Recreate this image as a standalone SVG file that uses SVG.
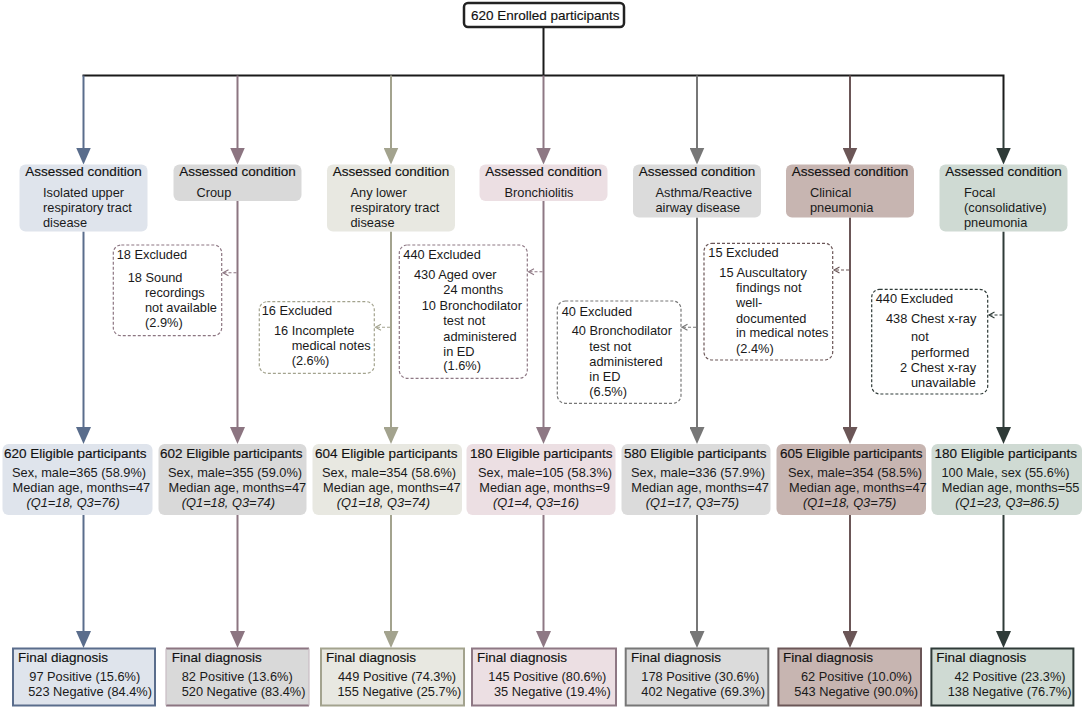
<svg xmlns="http://www.w3.org/2000/svg" width="1084" height="708" viewBox="0 0 1084 708">
<style>
text{font-family:"Liberation Sans",Arial,sans-serif;fill:#1a1a1a}
.h{font-size:13.5px;fill:#111;stroke:#111;stroke-width:0.15}
.b{font-size:12.8px}
.i{font-size:12.8px;font-style:italic}
.ln{fill:none;stroke-width:2}
.ex{fill:#fff;stroke-width:1.2;stroke-dasharray:3 2}
.da{fill:none;stroke-width:1.1;stroke-dasharray:3 2}
.ah{fill:none;stroke-width:1.1}
</style>
<defs>
<marker id="m1" viewBox="0 0 17 15" refX="13" refY="7.5" markerWidth="17" markerHeight="15" markerUnits="userSpaceOnUse" orient="auto"><path d="M0,0 L17,7.5 L0,15 z" fill="#5a6d8c"/></marker>
<marker id="m2" viewBox="0 0 17 15" refX="13" refY="7.5" markerWidth="17" markerHeight="15" markerUnits="userSpaceOnUse" orient="auto"><path d="M0,0 L17,7.5 L0,15 z" fill="#8c7581"/></marker>
<marker id="m3" viewBox="0 0 17 15" refX="13" refY="7.5" markerWidth="17" markerHeight="15" markerUnits="userSpaceOnUse" orient="auto"><path d="M0,0 L17,7.5 L0,15 z" fill="#a3a38e"/></marker>
<marker id="m4" viewBox="0 0 17 15" refX="13" refY="7.5" markerWidth="17" markerHeight="15" markerUnits="userSpaceOnUse" orient="auto"><path d="M0,0 L17,7.5 L0,15 z" fill="#8e7884"/></marker>
<marker id="m5" viewBox="0 0 17 15" refX="13" refY="7.5" markerWidth="17" markerHeight="15" markerUnits="userSpaceOnUse" orient="auto"><path d="M0,0 L17,7.5 L0,15 z" fill="#777777"/></marker>
<marker id="m6" viewBox="0 0 17 15" refX="13" refY="7.5" markerWidth="17" markerHeight="15" markerUnits="userSpaceOnUse" orient="auto"><path d="M0,0 L17,7.5 L0,15 z" fill="#6b5657"/></marker>
<marker id="m7" viewBox="0 0 17 15" refX="13" refY="7.5" markerWidth="17" markerHeight="15" markerUnits="userSpaceOnUse" orient="auto"><path d="M0,0 L17,7.5 L0,15 z" fill="#2f3b38"/></marker>
</defs>
<rect width="1084" height="708" fill="#fff"/>

<g id="connectors">
<path class="ln" d="M543.5,27 V75.5 M82.5,75.5 H1004.5 M1003.5,75.5 V110" stroke="#1a1a1a"/>
<g stroke="#5a6d8c"><path class="ln" d="M83.5,75.5 V160.5" marker-end="url(#m1)"/><path class="ln" d="M83.5,231.5 V440" marker-end="url(#m1)"/><path class="ln" d="M83.5,515 V644" marker-end="url(#m1)"/></g>
<g stroke="#8c7581"><path class="ln" d="M237.5,75.5 V160.5" marker-end="url(#m2)"/><path class="ln" d="M237.5,201 V440" marker-end="url(#m2)"/><path class="ln" d="M237.5,515 V644" marker-end="url(#m2)"/></g>
<g stroke="#a3a38e"><path class="ln" d="M391,75.5 V160.5" marker-end="url(#m3)"/><path class="ln" d="M391,231.5 V440" marker-end="url(#m3)"/><path class="ln" d="M391,515 V644" marker-end="url(#m3)"/></g>
<g stroke="#8e7884"><path class="ln" d="M543.5,75.5 V160.5" marker-end="url(#m4)"/><path class="ln" d="M543.5,201 V440" marker-end="url(#m4)"/><path class="ln" d="M543.5,515 V644" marker-end="url(#m4)"/></g>
<g stroke="#777777"><path class="ln" d="M697,75.5 V160.5" marker-end="url(#m5)"/><path class="ln" d="M697,217.5 V440" marker-end="url(#m5)"/><path class="ln" d="M697,515 V644" marker-end="url(#m5)"/></g>
<g stroke="#6b5657"><path class="ln" d="M850,75.5 V160.5" marker-end="url(#m6)"/><path class="ln" d="M850,217.5 V440" marker-end="url(#m6)"/><path class="ln" d="M850,515 V644" marker-end="url(#m6)"/></g>
<g stroke="#2f3b38"><path class="ln" d="M1003.5,110 V160.5" stroke-width="2.4" marker-end="url(#m7)"/><path class="ln" d="M1003.5,231.5 V440" marker-end="url(#m7)"/><path class="ln" d="M1003.5,515 V644" marker-end="url(#m7)"/></g>
<g stroke="#8c7581"><path class="da" d="M236.5,272.7 H223"/><path class="ah" d="M228.5,269.7 L223,272.7 L228.5,275.7"/></g>
<g stroke="#a3a38e"><path class="da" d="M390,327.3 H375.5"/><path class="ah" d="M381,324.3 L375.5,327.3 L381,330.3"/></g>
<g stroke="#8e7884"><path class="da" d="M542.5,271.7 H528.5"/><path class="ah" d="M534,268.7 L528.5,271.7 L534,274.7"/></g>
<g stroke="#777777"><path class="da" d="M696,327.3 H682"/><path class="ah" d="M687.5,324.3 L682,327.3 L687.5,330.3"/></g>
<g stroke="#6b5657"><path class="da" d="M849,270 H834"/><path class="ah" d="M839.5,267 L834,270 L839.5,273"/></g>
<g stroke="#2f3b38"><path class="da" d="M1002.5,315 H989"/><path class="ah" d="M994.5,312 L989,315 L994.5,318"/></g>
</g>

<g id="enrolled">
<rect x="464" y="3" width="160" height="24" rx="4" fill="#fff" stroke="#222" stroke-width="2.5"/>
<text class="h" x="471" y="19.5">620 Enrolled participants</text>
</g>

<g id="assessed1"><rect x="19.5" y="164.5" width="128" height="67" rx="6" fill="#dfe4ec"/>
<text class="h" x="83.5" y="176" text-anchor="middle">Assessed condition</text>
<text class="b" x="43" y="196.5">Isolated upper</text><text class="b" x="43" y="211.5">respiratory tract</text><text class="b" x="43" y="226.5">disease</text></g>
<g id="assessed2"><rect x="173.5" y="164.5" width="128" height="36.5" rx="6" fill="#d9d9d9"/>
<text class="h" x="237.5" y="176" text-anchor="middle">Assessed condition</text>
<text class="b" x="196.5" y="196.5">Croup</text></g>
<g id="assessed3"><rect x="327" y="164.5" width="128" height="67" rx="6" fill="#e8e8e1"/>
<text class="h" x="391" y="176" text-anchor="middle">Assessed condition</text>
<text class="b" x="350.5" y="196.5">Any lower</text><text class="b" x="350.5" y="211.5">respiratory tract</text><text class="b" x="350.5" y="226.5">disease</text></g>
<g id="assessed4"><rect x="479.5" y="164.5" width="128" height="36.5" rx="6" fill="#ecdfe3"/>
<text class="h" x="543.5" y="176" text-anchor="middle">Assessed condition</text>
<text class="b" x="504.5" y="196.5">Bronchiolitis</text></g>
<g id="assessed5"><rect x="633" y="164.5" width="128" height="53" rx="6" fill="#dbdbdb"/>
<text class="h" x="697" y="176" text-anchor="middle">Assessed condition</text>
<text class="b" x="655.5" y="196.5">Asthma/Reactive</text><text class="b" x="655.5" y="211.5">airway disease</text></g>
<g id="assessed6"><rect x="786" y="164.5" width="128" height="53" rx="6" fill="#c7b5b1"/>
<text class="h" x="850" y="176" text-anchor="middle">Assessed condition</text>
<text class="b" x="810" y="196.5">Clinical</text><text class="b" x="810" y="211.5">pneumonia</text></g>
<g id="assessed7"><rect x="939.5" y="164.5" width="128" height="67" rx="6" fill="#cfdad3"/>
<text class="h" x="1003.5" y="176" text-anchor="middle">Assessed condition</text>
<text class="b" x="964" y="196.5">Focal</text><text class="b" x="964" y="211.5">(consolidative)</text><text class="b" x="964" y="226.5">pneumonia</text></g>

<g id="excluded2"><rect class="ex" x="113.3" y="245" width="108.4" height="90.7" rx="8" stroke="#8c7581"/>
<text class="b" x="116.7" y="259.3">18 Excluded</text><text class="b" x="127.7" y="281.7">18 Sound</text><text class="b" x="145" y="296.7">recordings</text><text class="b" x="145" y="312.3">not available</text><text class="b" x="145" y="327.3">(2.9%)</text></g>
<g id="excluded3"><rect class="ex" x="259.3" y="301.7" width="115" height="71.6" rx="8" stroke="#a3a38e"/>
<text class="b" x="261.7" y="315">16 Excluded</text><text class="b" x="274" y="335">16 Incomplete</text><text class="b" x="291.7" y="350">medical notes</text><text class="b" x="291.7" y="365">(2.6%)</text></g>
<g id="excluded4"><rect class="ex" x="399.3" y="245" width="128" height="133.3" rx="8" stroke="#8e7884"/>
<text class="b" x="403.3" y="259.3">440 Excluded</text><text class="b" x="414" y="279.3">430 Aged over</text><text class="b" x="443.3" y="294.3">24 months</text><text class="b" x="421.7" y="310">10 Bronchodilator</text><text class="b" x="443.3" y="325">test not</text><text class="b" x="443.3" y="340.7">administered</text><text class="b" x="443.3" y="356">in ED</text><text class="b" x="443.3" y="370">(1.6%)</text></g>
<g id="excluded5"><rect class="ex" x="557.3" y="301" width="123.7" height="102.3" rx="8" stroke="#777777"/>
<text class="b" x="561.7" y="315.7">40 Excluded</text><text class="b" x="571.7" y="335">40 Bronchodilator</text><text class="b" x="589.3" y="350.7">test not</text><text class="b" x="589.3" y="366">administered</text><text class="b" x="589.3" y="380.7">in ED</text><text class="b" x="589.3" y="395.7">(6.5%)</text></g>
<g id="excluded6"><rect class="ex" x="704" y="243.3" width="128.7" height="116.7" rx="8" stroke="#6b5657"/>
<text class="b" x="708.3" y="257.3">15 Excluded</text><text class="b" x="719.3" y="276.7">15 Auscultatory</text><text class="b" x="736" y="292.3">findings not</text><text class="b" x="736" y="307.3">well-</text><text class="b" x="736" y="322.7">documented</text><text class="b" x="736" y="337.3">in medical notes</text><text class="b" x="736" y="352.7">(2.4%)</text></g>
<g id="excluded7"><rect class="ex" x="871.7" y="289.3" width="116" height="104.7" rx="8" stroke="#2f3b38"/>
<text class="b" x="875.7" y="303.3">440 Excluded</text><text class="b" x="886" y="322.7">438 Chest x-ray</text><text class="b" x="911" y="341">not</text><text class="b" x="911" y="356.7">performed</text><text class="b" x="900" y="371.7">2 Chest x-ray</text><text class="b" x="911" y="386.7">unavailable</text></g>

<g id="eligible1"><rect x="2.5" y="444" width="150" height="71" rx="6" fill="#dfe4ec"/>
<text class="h" x="4" y="457.5">620 Eligible participants</text><text class="b" x="12" y="476.7">Sex, male=365 (58.9%)</text><text class="b" x="12.5" y="491.7">Median age, months=47</text><text class="i" x="26.5" y="506.7">(Q1=18, Q3=76)</text></g>
<g id="eligible2"><rect x="158.5" y="444" width="148" height="71" rx="6" fill="#d9d9d9"/>
<text class="h" x="160" y="457.5">602 Eligible participants</text><text class="b" x="168" y="476.7">Sex, male=355 (59.0%)</text><text class="b" x="168.5" y="491.7">Median age, months=47</text><text class="i" x="181.8" y="506.7">(Q1=18, Q3=74)</text></g>
<g id="eligible3"><rect x="312.5" y="444" width="149.5" height="71" rx="6" fill="#e8e8e1"/>
<text class="h" x="315" y="457.5">604 Eligible participants</text><text class="b" x="322" y="476.7">Sex, male=354 (58.6%)</text><text class="b" x="323" y="491.7">Median age, months=47</text><text class="i" x="336.8" y="506.7">(Q1=18, Q3=74)</text></g>
<g id="eligible4"><rect x="466.5" y="444" width="149" height="71" rx="6" fill="#ecdfe3"/>
<text class="h" x="470" y="457.5">180 Eligible participants</text><text class="b" x="478" y="476.7">Sex, male=105 (58.3%)</text><text class="b" x="479.3" y="491.7">Median age, months=9</text><text class="i" x="493" y="506.7">(Q1=4, Q3=16)</text></g>
<g id="eligible5"><rect x="621.5" y="444" width="149" height="71" rx="6" fill="#dbdbdb"/>
<text class="h" x="624" y="457.5">580 Eligible participants</text><text class="b" x="631" y="476.7">Sex, male=336 (57.9%)</text><text class="b" x="631.3" y="491.7">Median age, months=47</text><text class="i" x="645.8" y="506.7">(Q1=17, Q3=75)</text></g>
<g id="eligible6"><rect x="776.5" y="444" width="149.5" height="71" rx="6" fill="#c7b5b1"/>
<text class="h" x="780" y="457.5">605 Eligible participants</text><text class="b" x="788" y="476.7">Sex, male=354 (58.5%)</text><text class="b" x="789" y="491.7">Median age, months=47</text><text class="i" x="803" y="506.7">(Q1=18, Q3=75)</text></g>
<g id="eligible7"><rect x="931.5" y="444" width="150.5" height="71" rx="6" fill="#cfdad3"/>
<text class="h" x="934.5" y="457.5">180 Eligible participants</text><text class="b" x="941.5" y="476.7">100 Male, sex (55.6%)</text><text class="b" x="941.8" y="491.7">Median age, months=55</text><text class="i" x="955.3" y="506.7">(Q1=23, Q3=86.5)</text></g>

<g id="final1"><rect x="13" y="648.5" width="142" height="57" fill="#dfe4ec" stroke="#5a6d8c" stroke-width="2"/>
<text class="h" x="18" y="661.7">Final diagnosis</text><text class="b" x="29.3" y="680.5">97 Positive (15.6%)</text><text class="b" x="28.2" y="695.5">523 Negative (84.4%)</text></g>
<g id="final2"><rect x="166" y="648.5" width="143" height="57" fill="#d9d9d9"/><path d="M166,648.5 H309 M166,705.5 H309" stroke="#8c7581" stroke-width="2.2"/><path d="M166,648.5 V705.5 M309,648.5 V705.5" stroke="#c9bcc3" stroke-width="1.2"/>
<text class="h" x="171.7" y="661.7">Final diagnosis</text><text class="b" x="181.7" y="680.5">82 Positive (13.6%)</text><text class="b" x="181.7" y="695.5">520 Negative (83.4%)</text></g>
<g id="final3"><rect x="321" y="648.5" width="143" height="57" fill="#e8e8e1" stroke="#a3a38e" stroke-width="2"/>
<text class="h" x="326" y="661.7">Final diagnosis</text><text class="b" x="338" y="680.5">449 Positive (74.3%)</text><text class="b" x="337.5" y="695.5">155 Negative (25.7%)</text></g>
<g id="final4"><rect x="472" y="648.5" width="144" height="57" fill="#ecdfe3" stroke="#8e7884" stroke-width="2"/>
<text class="h" x="477" y="661.7">Final diagnosis</text><text class="b" x="488.3" y="680.5">145 Positive (80.6%)</text><text class="b" x="494" y="695.5">35 Negative (19.4%)</text></g>
<g id="final5"><rect x="625.7" y="648.5" width="142.6" height="57" fill="#dbdbdb" stroke="#777777" stroke-width="2"/>
<text class="h" x="631" y="661.7">Final diagnosis</text><text class="b" x="641.3" y="680.5">178 Positive (30.6%)</text><text class="b" x="641.3" y="695.5">402 Negative (69.3%)</text></g>
<g id="final6"><rect x="778.4" y="648.5" width="142.6" height="57" fill="#c7b5b1" stroke="#6b5657" stroke-width="2"/>
<text class="h" x="783" y="661.7">Final diagnosis</text><text class="b" x="801" y="680.5">62 Positive (10.0%)</text><text class="b" x="794.3" y="695.5">543 Negative (90.0%)</text></g>
<g id="final7"><rect x="931.4" y="648.5" width="142" height="57" fill="#cfdad3" stroke="#2f3b38" stroke-width="2"/>
<text class="h" x="936.3" y="661.7">Final diagnosis</text><text class="b" x="954.6" y="680.5">42 Positive (23.3%)</text><text class="b" x="947.7" y="695.5">138 Negative (76.7%)</text></g>
</svg>
